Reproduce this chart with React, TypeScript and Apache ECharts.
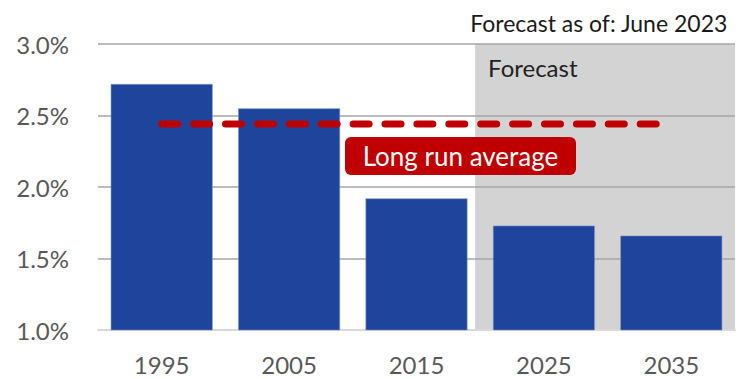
import React, { useEffect, useRef } from "react";
import * as echarts from "echarts";

// Decade categories and growth values (percent)
const categories = ["1995", "2005", "2015", "2025", "2035"];
const growthValues = [2.72, 2.55, 1.92, 1.73, 1.66];
const longRunAverage = [2.44, 2.44, 2.44, 2.44, 2.44];
const forecastStart = "2025";

const yMin = 1.0;
const yMax = 3.0;
const yStep = 0.5;

const titleText = "Forecast as of: June 2023";
const forecastLabel = "Forecast";
const averageLabel = "Long run average";

const FONT = "Lato";
const BAR_BLUE = "#1F449B";
const AVG_RED = "#C00000";

export default function App() {
  const ref = useRef<HTMLDivElement>(null);

  useEffect(() => {
    if (!ref.current) return;
    const chart = echarts.init(ref.current, null, { renderer: "svg" });
    chart.setOption({
      animation: false,
      textStyle: { fontFamily: FONT },
      grid: { left: 98, right: 12, top: 44, bottom: 49 },
      title: {
        text: titleText,
        right: 19,
        top: 11,
        padding: 0,
        textStyle: { fontSize: 23, fontWeight: "normal", color: "#1a1a1a", fontFamily: FONT },
      },
      xAxis: {
        type: "category",
        data: categories,
        axisTick: { show: false },
        axisLine: { lineStyle: { color: "#D9D9D9", width: 2 } },
        axisLabel: { fontSize: 24, color: "#595959", margin: 22, fontFamily: FONT },
      },
      yAxis: {
        type: "value",
        min: yMin,
        max: yMax,
        interval: yStep,
        axisLabel: {
          formatter: (v: number) => v.toFixed(1) + "%",
          fontSize: 24,
          color: "#595959",
          margin: 29,
          fontFamily: FONT,
        },
        splitLine: { lineStyle: { color: "#A6A6A6", width: 1.5 } },
      },
      series: [
        {
          type: "bar",
          data: growthValues,
          barWidth: "80%",
          itemStyle: { color: BAR_BLUE, borderColor: "#7F95CC", borderWidth: 0.6 },
          z: 2,
        },
        {
          type: "line",
          data: longRunAverage,
          symbol: "none",
          lineStyle: { color: AVG_RED, width: 7, type: [16, 15.9], cap: "round" },
          z: 3,
        },
      ],
    });

    // Place the forecast shading and labels from the axis scales
    const idx = categories.indexOf(forecastStart);
    const pPrev = chart.convertToPixel({ gridIndex: 0 }, [categories[idx - 1], yMax]) as number[];
    const pStart = chart.convertToPixel({ gridIndex: 0 }, [categories[idx], yMin]) as number[];
    const pLast = chart.convertToPixel({ gridIndex: 0 }, [categories[categories.length - 1], yMin]) as number[];
    const band = pStart[0] - pPrev[0];
    const shadeLeft = pPrev[0] + band * 0.46;
    const shadeRight = pLast[0] + band / 2;
    const top = pPrev[1];
    const bottom = pStart[1];
    const pAvg = chart.convertToPixel({ gridIndex: 0 }, [categories[2], longRunAverage[2]]) as number[];

    const boxW = 231;
    const boxH = 38;
    const boxX = pAvg[0] + 44 - boxW / 2;
    const boxY = pAvg[1] + 13;

    chart.setOption({
      graphic: {
        elements: [
          {
            type: "rect",
            z: -1,
            silent: true,
            shape: { x: shadeLeft, y: top, width: shadeRight - shadeLeft, height: bottom - top },
            style: { fill: "#D3D3D3" },
          },
          {
            type: "text",
            z: 5,
            x: shadeLeft + 13,
            y: top + 11,
            style: {
              text: forecastLabel,
              fill: "#222222",
              font: `24px ${FONT}`,
              textVerticalAlign: "top",
            },
          },
          {
            type: "rect",
            z: 10,
            shape: { x: boxX, y: boxY, width: boxW, height: boxH, r: 6 },
            style: { fill: AVG_RED },
          },
          {
            type: "text",
            z: 11,
            x: boxX + boxW / 2,
            y: boxY + boxH / 2,
            style: {
              text: averageLabel,
              fill: "#ffffff",
              font: `26px ${FONT}`,
              textAlign: "center",
              textVerticalAlign: "middle",
            },
          },
        ],
      },
    });

    return () => chart.dispose();
  }, []);

  return (
    <div
      ref={ref}
      style={{ position: "fixed", left: 0, top: 0, width: 747, height: 379, background: "#ffffff" }}
    />
  );
}
